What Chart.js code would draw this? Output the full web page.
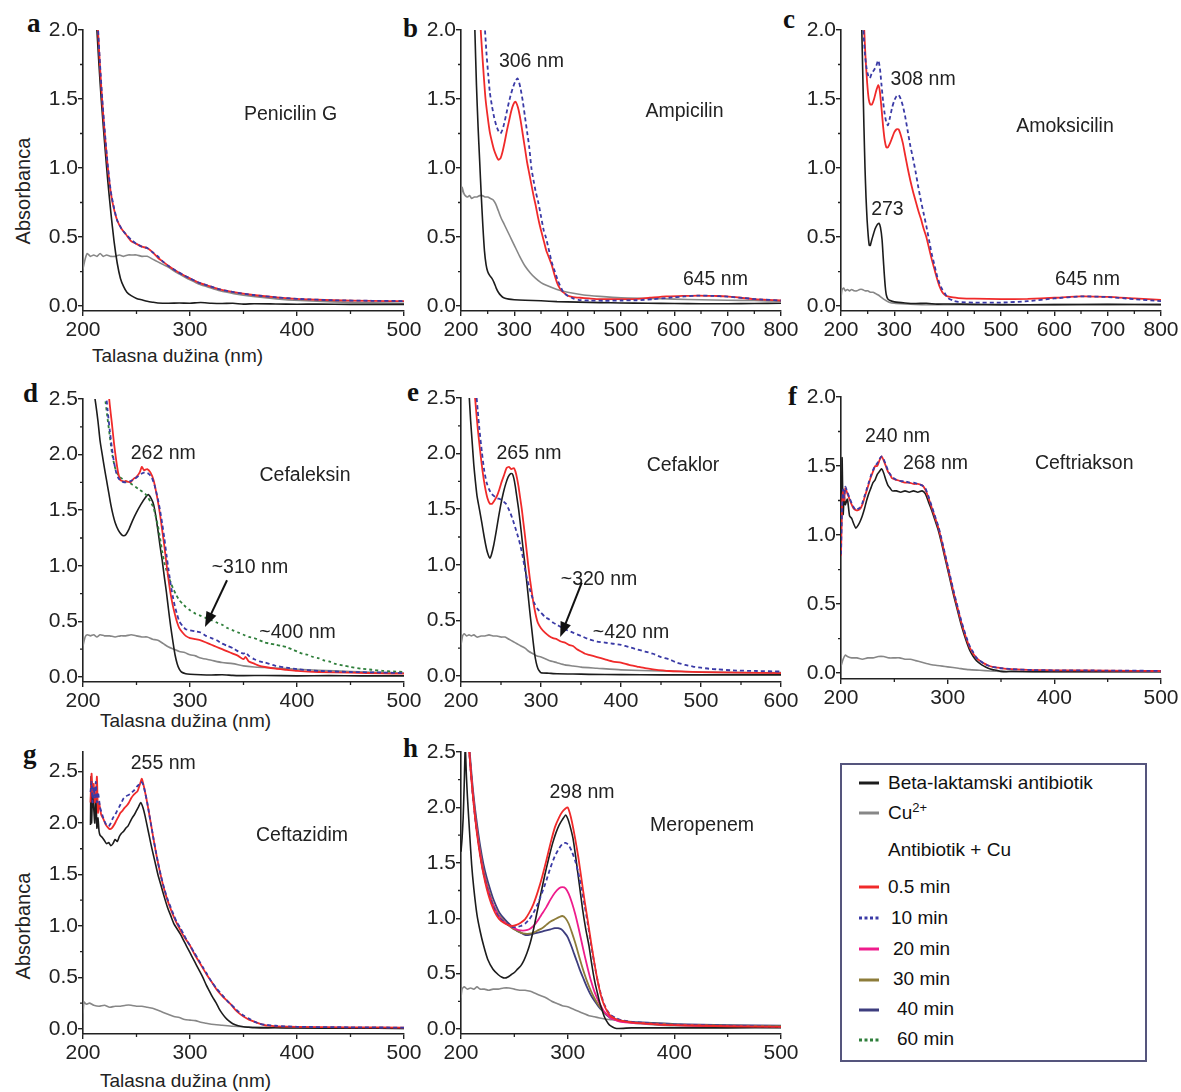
<!DOCTYPE html>
<html>
<head>
<meta charset="utf-8">
<script src="https://cdn.jsdelivr.net/npm/chart.js@4.4.1/dist/chart.umd.min.js"></script>
<style>
  html, body { margin: 0; background: #fff; }
  #wrap { position: relative; width: 1181px; height: 1092px; overflow: hidden; }
  #wrap canvas { position: absolute; }
  #overlay { position: absolute; left: 0; top: 0; }
</style>
</head>
<body>
<div id="wrap">
  <svg id="overlay" width="1181" height="1092" xmlns="http://www.w3.org/2000/svg"></svg>
</div>
<script>
// tick values
const xTicks500 = [200, 300, 400, 500]
const xTicks600 = [200, 300, 400, 500, 600]
const xTicks800 = [200, 300, 400, 500, 600, 700, 800]
const xMinor500 = [250, 350, 450]
const xMinor600 = [250, 350, 450, 550]
const xMinor800 = [250, 350, 450, 550, 650, 750]
const yTicks20 = [0, 0.5, 1, 1.5, 2]
const yTicks25 = [0, 0.5, 1, 1.5, 2, 2.5]
const yMinor20 = [0.25, 0.75, 1.25, 1.75]
const yMinor25 = [0.25, 0.75, 1.25, 1.75, 2.25]

// a - Penicilin G  [nm, absorbance]
const aBlack = [[209,2.6],[211,2.3],[213,2.0],[215,1.74],[217,1.5],[220,1.2],[223,0.92],[226,0.68],[229,0.47],[232,0.31],[235,0.2],[238,0.14],[241,0.1],[245,0.075],[250,0.055],[255,0.045],[260,0.035],[265,0.028],[270,0.022],[280,0.02],[290,0.022],[300,0.02],[310,0.026],[320,0.02],[330,0.018],[340,0.02],[350,0.014],[360,0.017],[380,0.015],[400,0.013],[420,0.014],[450,0.012],[480,0.012],[500,0.012]]
const aGray = [[200,0.27],[202,0.34],[204,0.38],[207,0.36],[210,0.37],[213,0.36],[216,0.38],[219,0.36],[222,0.37],[226,0.36],[230,0.36],[234,0.37],[238,0.36],[242,0.37],[246,0.37],[250,0.37],[255,0.36],[260,0.36],[265,0.34],[270,0.32],[275,0.3],[280,0.28],[288,0.24],[295,0.21],[300,0.19],[308,0.16],[316,0.14],[328,0.11],[341,0.09],[359,0.07],[381,0.052],[403,0.04],[434,0.03],[470,0.024],[500,0.02]]
const aRed = [[211,2.5],[214,2.0],[216,1.72],[218,1.48],[220,1.28],[223,1.02],[226,0.82],[229,0.7],[232,0.62],[236,0.56],[240,0.52],[245,0.47],[250,0.45],[255,0.43],[260,0.42],[265,0.39],[270,0.35],[275,0.32],[280,0.29],[288,0.25],[295,0.22],[300,0.2],[308,0.17],[316,0.15],[328,0.12],[341,0.1],[359,0.08],[381,0.062],[403,0.05],[434,0.042],[470,0.037],[500,0.035]]
const aBlue = [[211,2.5],[214,2.02],[216,1.74],[218,1.5],[220,1.3],[223,1.03],[226,0.83],[229,0.71],[232,0.62],[236,0.56],[240,0.52],[245,0.48],[250,0.45],[255,0.43],[260,0.42],[265,0.39],[270,0.36],[275,0.32],[280,0.29],[288,0.25],[295,0.22],[300,0.2],[308,0.17],[316,0.15],[328,0.12],[341,0.1],[359,0.08],[381,0.063],[403,0.051],[434,0.042],[470,0.038],[500,0.036]]

// b - Ampicilin
const bBlack = [[222,2.6],[226,2.0],[229,1.6],[232,1.3],[235,1.05],[238,0.8],[241,0.58],[244,0.4],[247,0.3],[250,0.25],[254,0.22],[258,0.2],[262,0.17],[266,0.13],[270,0.1],[275,0.075],[280,0.06],[290,0.05],[300,0.046],[320,0.042],[350,0.038],[380,0.032],[420,0.028],[460,0.025],[500,0.022],[550,0.02],[600,0.018],[650,0.017],[700,0.017],[750,0.018],[800,0.02]]
const bGray = [[200,0.78],[202,0.86],[205,0.82],[208,0.8],[212,0.79],[216,0.8],[220,0.78],[225,0.79],[230,0.79],[235,0.8],[240,0.8],[245,0.79],[250,0.79],[255,0.78],[260,0.77],[265,0.74],[270,0.69],[275,0.64],[280,0.6],[285,0.56],[290,0.52],[295,0.48],[300,0.44],[310,0.36],[320,0.29],[330,0.24],[340,0.2],[350,0.17],[360,0.15],[380,0.12],[400,0.1],[430,0.08],[460,0.07],[500,0.06],[550,0.055],[600,0.05],[650,0.045],[700,0.042],[750,0.04],[800,0.035]]
const bRed = [[234,2.3],[237,2.0],[240,1.82],[243,1.65],[246,1.5],[250,1.37],[254,1.26],[258,1.19],[262,1.13],[266,1.09],[270,1.06],[274,1.07],[278,1.12],[282,1.19],[286,1.27],[290,1.34],[294,1.41],[298,1.46],[302,1.48],[305,1.46],[308,1.42],[312,1.34],[316,1.24],[320,1.14],[324,1.04],[328,0.96],[332,0.88],[336,0.8],[340,0.73],[344,0.65],[348,0.58],[352,0.52],[356,0.46],[360,0.4],[365,0.35],[370,0.3],[375,0.23],[380,0.17],[385,0.13],[390,0.105],[395,0.09],[400,0.075],[410,0.065],[423,0.06],[440,0.055],[460,0.05],[500,0.05],[523,0.05],[554,0.06],[585,0.07],[615,0.073],[645,0.076],[675,0.073],[698,0.07],[725,0.06],[748,0.05],[775,0.045],[800,0.04]]
const bBlue = [[240,2.35],[245,2.0],[248,1.82],[251,1.68],[254,1.55],[258,1.45],[262,1.37],[266,1.31],[270,1.27],[274,1.25],[278,1.28],[282,1.34],[286,1.41],[290,1.48],[294,1.54],[298,1.59],[302,1.63],[306,1.65],[309,1.62],[312,1.57],[316,1.48],[320,1.37],[324,1.26],[328,1.15],[332,1.0],[336,0.91],[340,0.83],[345,0.75],[350,0.65],[355,0.55],[359,0.5],[364,0.42],[370,0.32],[376,0.25],[382,0.18],[388,0.13],[392,0.1],[400,0.075],[410,0.055],[420,0.045],[440,0.04],[470,0.038],[500,0.04],[530,0.042],[560,0.05],[590,0.06],[620,0.07],[645,0.076],[670,0.074],[700,0.068],[730,0.058],[760,0.048],[800,0.04]]

// c - Amoksicilin
const cBlack = [[234,2.6],[237,2.25],[239,2.0],[241,1.65],[243,1.3],[245,1.0],[247,0.78],[249,0.62],[251,0.51],[253,0.44],[255,0.44],[257,0.47],[260,0.51],[264,0.56],[268,0.59],[271,0.6],[274,0.57],[277,0.48],[279,0.36],[281,0.24],[283,0.14],[285,0.08],[288,0.05],[292,0.04],[300,0.03],[320,0.022],[340,0.018],[360,0.02],[380,0.014],[400,0.015],[450,0.012],[500,0.01],[600,0.01],[700,0.012],[800,0.01]]
const cGray = [[200,0.06],[202,0.12],[205,0.13],[208,0.11],[212,0.12],[216,0.11],[220,0.12],[225,0.11],[230,0.11],[235,0.12],[240,0.12],[245,0.11],[250,0.11],[255,0.1],[260,0.1],[265,0.09],[270,0.08],[275,0.065],[280,0.05],[285,0.038],[290,0.028],[300,0.02],[320,0.015],[340,0.012],[360,0.01],[400,0.01],[500,0.008],[600,0.01],[700,0.01],[800,0.012]]
const cRed = [[240,2.4],[243,2.05],[246,1.8],[249,1.62],[252,1.5],[255,1.46],[258,1.46],[262,1.5],[266,1.56],[270,1.6],[273,1.55],[276,1.43],[279,1.3],[282,1.2],[285,1.15],[288,1.15],[292,1.18],[296,1.22],[300,1.26],[304,1.28],[308,1.28],[312,1.24],[316,1.18],[320,1.1],[325,1.0],[330,0.91],[335,0.83],[340,0.76],[345,0.69],[350,0.63],[355,0.56],[360,0.5],[365,0.42],[370,0.34],[375,0.27],[380,0.2],[385,0.14],[390,0.1],[395,0.08],[400,0.07],[410,0.062],[420,0.058],[450,0.053],[500,0.05],[550,0.052],[600,0.06],[650,0.07],[700,0.066],[750,0.055],[800,0.045]]
const cBlue = [[240,2.3],[242,2.0],[245,1.82],[248,1.72],[251,1.67],[254,1.65],[258,1.69],[262,1.71],[266,1.74],[270,1.78],[273,1.72],[276,1.6],[279,1.48],[282,1.39],[285,1.33],[288,1.31],[292,1.37],[296,1.44],[300,1.49],[304,1.52],[308,1.53],[312,1.5],[316,1.45],[320,1.38],[325,1.27],[330,1.16],[335,1.07],[340,0.97],[345,0.86],[350,0.76],[355,0.67],[360,0.58],[365,0.48],[370,0.38],[375,0.3],[380,0.22],[385,0.16],[390,0.12],[395,0.09],[400,0.06],[410,0.04],[420,0.03],[450,0.025],[500,0.025],[550,0.035],[600,0.055],[650,0.07],[700,0.065],[750,0.05],[800,0.035]]

// d - Cefaleksin
const dBlack = [[210,2.58],[212,2.45],[214,2.3],[216,2.12],[218,2.0],[220,1.88],[222,1.77],[224,1.66],[226,1.55],[228,1.46],[230,1.39],[233,1.32],[236,1.28],[238,1.27],[240,1.28],[243,1.33],[246,1.4],[250,1.48],[254,1.55],[258,1.61],[261,1.64],[264,1.6],[266,1.55],[268,1.45],[270,1.32],[272,1.18],[274,1.05],[276,0.9],[278,0.76],[280,0.6],[282,0.45],[284,0.32],[286,0.2],[288,0.12],[290,0.07],[292,0.045],[296,0.03],[300,0.025],[310,0.02],[320,0.018],[330,0.02],[340,0.015],[350,0.012],[370,0.014],[400,0.01],[430,0.012],[460,0.01],[500,0.01]]
const dGray = [[200,0.28],[202,0.36],[204,0.38],[207,0.37],[210,0.38],[213,0.36],[216,0.38],[220,0.37],[225,0.37],[230,0.36],[235,0.37],[240,0.37],[245,0.38],[250,0.37],[255,0.36],[260,0.36],[265,0.34],[270,0.33],[275,0.3],[280,0.27],[285,0.25],[290,0.23],[295,0.22],[300,0.2],[305,0.19],[310,0.17],[320,0.15],[330,0.13],[340,0.12],[350,0.1],[360,0.09],[370,0.085],[380,0.08],[400,0.07],[420,0.06],[450,0.05],[480,0.04],[500,0.035]]
const dRed = [[221,2.9],[223,2.65],[225,2.45],[227,2.28],[229,2.1],[231,1.95],[233,1.83],[235,1.77],[238,1.76],[241,1.76],[244,1.75],[247,1.78],[250,1.8],[253,1.84],[255,1.89],[257,1.86],[260,1.87],[263,1.84],[266,1.77],[268,1.68],[270,1.58],[272,1.46],[274,1.32],[276,1.18],[278,1.02],[280,0.87],[282,0.74],[284,0.64],[286,0.56],[288,0.49],[290,0.44],[293,0.4],[296,0.37],[300,0.35],[305,0.34],[310,0.33],[315,0.31],[320,0.29],[325,0.27],[330,0.25],[335,0.23],[340,0.21],[345,0.19],[350,0.16],[352,0.18],[355,0.14],[360,0.12],[365,0.1],[370,0.09],[380,0.075],[390,0.065],[400,0.055],[420,0.045],[450,0.04],[480,0.032],[500,0.03]]
const dBlue = [[219,2.8],[221,2.6],[223,2.4],[225,2.22],[227,2.06],[229,1.93],[231,1.84],[233,1.79],[236,1.76],[240,1.75],[244,1.76],[248,1.78],[252,1.81],[255,1.83],[258,1.84],[261,1.83],[264,1.8],[267,1.72],[270,1.6],[272,1.5],[274,1.38],[276,1.25],[278,1.1],[280,0.96],[282,0.83],[284,0.72],[286,0.63],[288,0.56],[290,0.5],[293,0.46],[296,0.43],[300,0.42],[305,0.41],[310,0.4],[315,0.37],[320,0.35],[325,0.33],[330,0.3],[335,0.28],[340,0.26],[345,0.23],[350,0.21],[352,0.22],[355,0.19],[360,0.16],[365,0.14],[370,0.13],[380,0.1],[390,0.085],[400,0.07],[420,0.055],[450,0.045],[480,0.04],[500,0.035]]
const dGreen = [[217,2.8],[219,2.62],[221,2.48],[223,2.32],[225,2.17],[227,2.02],[229,1.92],[231,1.85],[234,1.8],[237,1.78],[240,1.76],[243,1.75],[246,1.73],[249,1.71],[252,1.69],[255,1.67],[258,1.65],[261,1.61],[264,1.56],[266,1.52],[268,1.44],[270,1.36],[272,1.25],[274,1.13],[276,1.03],[278,0.96],[280,0.9],[282,0.85],[284,0.8],[287,0.74],[290,0.69],[293,0.66],[296,0.63],[300,0.6],[305,0.57],[310,0.55],[315,0.53],[320,0.51],[325,0.49],[330,0.47],[335,0.44],[340,0.42],[345,0.4],[350,0.38],[355,0.36],[360,0.35],[365,0.33],[370,0.31],[375,0.3],[380,0.29],[385,0.28],[390,0.27],[395,0.25],[400,0.23],[405,0.21],[410,0.2],[415,0.18],[420,0.17],[425,0.15],[430,0.14],[435,0.12],[440,0.11],[445,0.1],[450,0.09],[460,0.075],[470,0.065],[480,0.055],[490,0.05],[500,0.045]]

// e - Cefaklor
const eBlack = [[208,2.75],[210,2.55],[212,2.3],[214,2.1],[216,1.9],[218,1.75],[220,1.62],[223,1.5],[226,1.38],[229,1.25],[232,1.14],[234,1.09],[236,1.06],[238,1.09],[241,1.18],[244,1.3],[247,1.43],[250,1.55],[253,1.65],[256,1.73],[259,1.79],[262,1.82],[264,1.82],[266,1.78],[268,1.7],[270,1.6],[272,1.5],[274,1.38],[276,1.25],[278,1.12],[280,1.0],[282,0.86],[284,0.72],[286,0.58],[288,0.45],[290,0.32],[292,0.2],[294,0.12],[296,0.07],[298,0.045],[300,0.03],[310,0.025],[320,0.02],[340,0.018],[360,0.015],[400,0.012],[450,0.01],[500,0.01],[550,0.01],[600,0.01]]
const eGray = [[200,0.28],[202,0.36],[204,0.38],[207,0.36],[210,0.37],[213,0.36],[216,0.37],[220,0.35],[225,0.36],[230,0.36],[235,0.37],[240,0.36],[245,0.36],[250,0.35],[255,0.35],[260,0.33],[265,0.31],[270,0.29],[275,0.27],[280,0.25],[285,0.22],[290,0.2],[295,0.18],[300,0.17],[310,0.14],[320,0.12],[330,0.1],[340,0.09],[350,0.08],[370,0.07],[400,0.055],[450,0.045],[500,0.035],[550,0.03],[600,0.03]]
const eRed = [[215,2.75],[217,2.55],[219,2.38],[221,2.22],[224,2.02],[227,1.84],[230,1.7],[233,1.6],[236,1.55],[239,1.55],[242,1.58],[245,1.62],[248,1.68],[251,1.75],[254,1.81],[257,1.87],[260,1.88],[263,1.86],[266,1.87],[268,1.84],[270,1.78],[272,1.7],[274,1.6],[276,1.5],[278,1.38],[280,1.26],[282,1.13],[284,1.0],[286,0.88],[288,0.78],[290,0.68],[292,0.6],[294,0.53],[296,0.48],[300,0.43],[305,0.39],[310,0.36],[315,0.34],[320,0.33],[325,0.31],[330,0.3],[335,0.28],[340,0.27],[345,0.24],[350,0.22],[355,0.2],[360,0.19],[370,0.17],[380,0.15],[390,0.13],[400,0.12],[410,0.1],[420,0.085],[430,0.07],[440,0.06],[460,0.045],[480,0.04],[500,0.035],[550,0.03],[600,0.025]]
const eBlue = [[217,2.75],[219,2.55],[221,2.38],[223,2.22],[226,2.02],[229,1.85],[232,1.74],[235,1.68],[238,1.64],[241,1.62],[245,1.6],[249,1.59],[253,1.57],[256,1.55],[259,1.51],[262,1.46],[265,1.4],[268,1.33],[271,1.26],[274,1.18],[277,1.08],[280,0.96],[283,0.86],[286,0.78],[289,0.71],[292,0.65],[296,0.6],[300,0.57],[305,0.53],[310,0.51],[315,0.48],[320,0.46],[325,0.44],[330,0.42],[340,0.39],[350,0.36],[360,0.33],[370,0.31],[380,0.3],[390,0.29],[400,0.28],[410,0.26],[420,0.24],[430,0.22],[440,0.2],[450,0.17],[460,0.15],[470,0.12],[480,0.1],[490,0.085],[500,0.075],[510,0.065],[520,0.06],[540,0.05],[570,0.045],[600,0.04]]

// f - Ceftriakson
const fBlack = [[200,0.88],[201,1.56],[202,1.15],[203,1.28],[204,1.22],[206,1.26],[208,1.14],[210,1.12],[212,1.08],[214,1.05],[216,1.07],[218,1.1],[220,1.14],[222,1.19],[224,1.25],[226,1.3],[228,1.34],[230,1.38],[232,1.4],[234,1.44],[236,1.46],[238,1.48],[240,1.45],[242,1.4],[244,1.36],[246,1.34],[248,1.32],[252,1.32],[256,1.31],[260,1.32],[264,1.31],[268,1.32],[272,1.31],[276,1.32],[279,1.3],[282,1.24],[285,1.18],[288,1.11],[291,1.04],[294,0.95],[297,0.85],[300,0.75],[303,0.65],[306,0.55],[309,0.46],[312,0.37],[315,0.29],[318,0.22],[321,0.16],[324,0.12],[327,0.09],[330,0.07],[334,0.05],[338,0.035],[342,0.025],[346,0.02],[350,0.012],[355,0.01],[360,0.012],[380,0.01],[400,0.01],[450,0.01],[500,0.01]]
const fGray = [[200,0.05],[202,0.1],[204,0.13],[206,0.12],[210,0.11],[215,0.11],[220,0.1],[225,0.11],[230,0.11],[235,0.12],[240,0.12],[245,0.11],[250,0.11],[255,0.11],[260,0.1],[265,0.1],[270,0.09],[275,0.08],[280,0.07],[285,0.06],[290,0.055],[295,0.05],[300,0.045],[310,0.035],[320,0.025],[330,0.02],[340,0.015],[350,0.012],[370,0.01],[400,0.01],[450,0.01],[500,0.01]]
const fRed = [[200,0.85],[201,1.22],[202,1.32],[203,1.25],[204,1.34],[206,1.3],[208,1.26],[210,1.22],[212,1.19],[214,1.18],[216,1.18],[218,1.19],[220,1.22],[222,1.27],[224,1.32],[226,1.37],[228,1.42],[230,1.46],[232,1.5],[234,1.5],[236,1.54],[238,1.57],[240,1.54],[242,1.5],[244,1.46],[246,1.44],[248,1.41],[252,1.4],[256,1.39],[260,1.38],[264,1.38],[268,1.37],[272,1.37],[276,1.36],[279,1.33],[282,1.27],[285,1.2],[288,1.13],[291,1.06],[294,0.97],[297,0.87],[300,0.77],[303,0.67],[306,0.57],[309,0.48],[312,0.39],[315,0.31],[318,0.24],[321,0.18],[324,0.14],[327,0.11],[330,0.09],[334,0.07],[338,0.055],[342,0.045],[346,0.04],[350,0.035],[355,0.03],[360,0.028],[380,0.022],[400,0.02],[450,0.018],[500,0.015]]
const fBlue = [[200,0.86],[201,1.2],[202,1.33],[203,1.27],[204,1.35],[206,1.31],[208,1.27],[210,1.23],[212,1.2],[214,1.18],[216,1.19],[218,1.2],[220,1.23],[222,1.28],[224,1.33],[226,1.38],[228,1.43],[230,1.47],[232,1.5],[234,1.52],[236,1.55],[238,1.57],[240,1.55],[242,1.51],[244,1.47],[246,1.44],[248,1.42],[252,1.4],[256,1.39],[260,1.39],[264,1.38],[268,1.38],[272,1.37],[276,1.36],[279,1.34],[282,1.28],[285,1.21],[288,1.14],[291,1.07],[294,0.98],[297,0.88],[300,0.78],[303,0.68],[306,0.58],[309,0.49],[312,0.4],[315,0.32],[318,0.25],[321,0.19],[324,0.15],[327,0.11],[330,0.09],[334,0.07],[338,0.055],[342,0.045],[346,0.04],[350,0.035],[355,0.032],[360,0.028],[380,0.022],[400,0.02],[450,0.018],[500,0.016]]

// g - Ceftazidim
const gBlack = [[207,1.98],[207.5,2.45],[208,2.0],[209,2.3],[210,2.15],[211,2.0],[212,2.28],[213,1.95],[214,2.05],[215,1.92],[216,1.88],[218,1.86],[220,1.83],[222,1.8],[224,1.81],[226,1.78],[228,1.8],[230,1.84],[232,1.82],[234,1.87],[236,1.9],[238,1.92],[240,1.95],[242,1.97],[244,2.01],[246,2.05],[248,2.08],[250,2.12],[252,2.16],[254,2.2],[256,2.15],[258,2.07],[260,1.97],[262,1.87],[264,1.77],[266,1.68],[268,1.59],[270,1.5],[273,1.39],[276,1.28],[279,1.18],[282,1.1],[285,1.02],[288,0.97],[291,0.92],[294,0.86],[297,0.8],[300,0.74],[303,0.68],[306,0.62],[309,0.56],[312,0.5],[315,0.43],[318,0.37],[321,0.31],[324,0.26],[327,0.2],[330,0.15],[333,0.11],[336,0.08],[340,0.05],[345,0.03],[350,0.02],[355,0.015],[360,0.01],[380,0.01],[400,0.008],[450,0.006],[500,0.005]]
const gGray = [[200,0.15],[201,0.26],[203,0.24],[206,0.25],[210,0.23],[215,0.22],[220,0.23],[225,0.21],[230,0.22],[235,0.22],[240,0.23],[245,0.23],[250,0.22],[255,0.22],[260,0.21],[265,0.2],[270,0.18],[275,0.16],[280,0.14],[285,0.12],[290,0.11],[295,0.09],[300,0.085],[305,0.08],[310,0.065],[315,0.055],[320,0.045],[330,0.035],[340,0.025],[350,0.02],[370,0.015],[400,0.01],[450,0.008],[500,0.005]]
const gRed = [[207,2.2],[208,2.48],[209,2.3],[210,2.38],[211,2.2],[212,2.25],[213,2.45],[214,2.1],[215,2.2],[217,2.08],[219,2.04],[221,1.99],[223,1.96],[225,1.94],[227,1.95],[229,1.98],[231,2.02],[233,2.06],[235,2.1],[237,2.12],[239,2.15],[241,2.17],[243,2.2],[245,2.24],[247,2.27],[249,2.29],[251,2.31],[253,2.37],[255,2.43],[257,2.35],[259,2.25],[261,2.14],[263,2.02],[265,1.9],[267,1.78],[269,1.67],[272,1.52],[275,1.39],[278,1.28],[281,1.19],[284,1.11],[287,1.04],[290,0.98],[293,0.92],[296,0.87],[300,0.81],[304,0.73],[308,0.66],[312,0.59],[316,0.52],[320,0.46],[325,0.38],[330,0.32],[335,0.27],[338,0.24],[342,0.19],[346,0.15],[350,0.12],[355,0.09],[360,0.07],[365,0.05],[370,0.035],[375,0.03],[380,0.025],[400,0.02],[450,0.015],[500,0.012]]
const gBlue = [[207,2.3],[208,2.4],[209,2.2],[210,2.35],[211,2.25],[212,2.4],[213,2.2],[214,2.3],[216,2.15],[218,2.08],[220,2.02],[222,1.98],[224,1.97],[226,2.0],[228,2.05],[230,2.08],[232,2.12],[234,2.16],[236,2.2],[238,2.24],[240,2.26],[242,2.27],[244,2.28],[246,2.3],[248,2.32],[250,2.35],[252,2.37],[254,2.4],[256,2.38],[258,2.3],[260,2.2],[262,2.08],[264,1.96],[266,1.84],[268,1.73],[270,1.62],[273,1.48],[276,1.36],[279,1.26],[282,1.18],[285,1.1],[288,1.03],[291,0.98],[294,0.92],[297,0.86],[300,0.81],[304,0.74],[308,0.67],[312,0.6],[316,0.53],[320,0.46],[325,0.39],[330,0.33],[335,0.27],[338,0.24],[342,0.2],[346,0.16],[350,0.13],[355,0.1],[360,0.07],[365,0.05],[370,0.04],[380,0.03],[400,0.02],[450,0.015],[500,0.012]]

// h - Meropenem
const hBlack = [[200,1.6],[201,1.72],[202,1.9],[203,2.2],[204,2.55],[205,2.3],[206,2.1],[208,1.78],[210,1.48],[212,1.27],[215,1.03],[218,0.88],[221,0.76],[225,0.63],[230,0.54],[235,0.49],[238,0.47],[241,0.46],[244,0.47],[247,0.49],[250,0.51],[253,0.54],[256,0.57],[259,0.62],[262,0.69],[265,0.78],[268,0.9],[271,1.04],[274,1.18],[277,1.32],[280,1.45],[283,1.57],[286,1.68],[289,1.77],[292,1.84],[295,1.89],[298,1.93],[300,1.9],[302,1.84],[305,1.72],[308,1.52],[311,1.3],[314,1.08],[317,0.9],[320,0.75],[322,0.62],[324,0.5],[326,0.4],[328,0.32],[330,0.24],[332,0.18],[334,0.12],[336,0.08],[338,0.05],[340,0.03],[344,0.01],[348,0.005],[360,0.01],[380,0.01],[400,0.01],[450,0.01],[500,0.012]]
const hGray = [[200,0.28],[201,0.36],[203,0.38],[206,0.36],[209,0.37],[212,0.36],[215,0.38],[218,0.36],[222,0.36],[226,0.35],[230,0.36],[235,0.36],[240,0.37],[245,0.37],[250,0.36],[255,0.35],[260,0.35],[265,0.34],[270,0.32],[275,0.3],[280,0.28],[285,0.25],[290,0.23],[295,0.21],[300,0.2],[305,0.18],[310,0.16],[315,0.14],[320,0.12],[325,0.11],[330,0.1],[335,0.09],[340,0.085],[345,0.08],[350,0.07],[360,0.055],[380,0.04],[400,0.03],[450,0.02],[500,0.015]]
const hRed = [[205,2.9],[207,2.62],[209,2.35],[211,2.12],[213,1.93],[215,1.76],[218,1.56],[221,1.4],[224,1.27],[227,1.17],[230,1.09],[233,1.03],[236,0.99],[240,0.96],[244,0.94],[248,0.93],[252,0.94],[256,0.96],[260,0.99],[264,1.05],[268,1.13],[272,1.24],[276,1.37],[280,1.52],[284,1.68],[288,1.82],[292,1.91],[295,1.96],[298,1.99],[300,2.0],[302,1.95],[304,1.87],[307,1.72],[310,1.55],[313,1.35],[316,1.15],[319,0.97],[322,0.78],[325,0.6],[328,0.44],[331,0.31],[334,0.22],[337,0.16],[340,0.12],[345,0.09],[350,0.075],[360,0.06],[380,0.045],[400,0.035],[450,0.025],[500,0.02]]
const hBlue = [[205,2.85],[207,2.6],[209,2.35],[211,2.12],[213,1.93],[215,1.77],[218,1.57],[221,1.41],[224,1.29],[227,1.19],[230,1.11],[233,1.05],[236,1.0],[240,0.97],[244,0.94],[248,0.92],[252,0.92],[256,0.93],[260,0.95],[264,0.99],[268,1.05],[272,1.13],[276,1.23],[280,1.34],[284,1.46],[288,1.56],[292,1.63],[295,1.67],[298,1.68],[301,1.66],[304,1.6],[307,1.52],[310,1.41],[313,1.27],[316,1.11],[319,0.94],[322,0.76],[325,0.59],[328,0.44],[331,0.32],[334,0.23],[337,0.17],[340,0.13],[345,0.1],[350,0.08],[360,0.065],[380,0.05],[400,0.04],[450,0.03],[500,0.02]]
const hMagenta = [[205,2.85],[207,2.6],[209,2.35],[211,2.13],[213,1.94],[215,1.78],[218,1.58],[221,1.42],[224,1.3],[227,1.2],[230,1.12],[233,1.06],[236,1.01],[240,0.97],[244,0.94],[248,0.92],[252,0.9],[256,0.89],[260,0.89],[264,0.9],[268,0.93],[272,0.98],[276,1.04],[280,1.1],[284,1.17],[288,1.23],[292,1.27],[295,1.28],[298,1.27],[301,1.22],[304,1.14],[307,1.04],[310,0.92],[313,0.79],[316,0.66],[319,0.54],[322,0.43],[325,0.34],[328,0.27],[331,0.21],[334,0.16],[337,0.13],[340,0.1],[345,0.08],[350,0.065],[360,0.055],[380,0.045],[400,0.035],[450,0.025],[500,0.02]]
const hOlive = [[205,2.85],[207,2.6],[209,2.36],[211,2.14],[213,1.96],[215,1.8],[218,1.6],[221,1.44],[224,1.32],[227,1.22],[230,1.13],[233,1.07],[236,1.02],[240,0.98],[244,0.94],[248,0.91],[252,0.89],[256,0.87],[260,0.86],[264,0.86],[268,0.87],[272,0.89],[276,0.91],[280,0.94],[284,0.97],[288,0.99],[292,1.01],[295,1.02],[298,1.0],[301,0.95],[304,0.87],[307,0.78],[310,0.68],[313,0.58],[316,0.49],[319,0.41],[322,0.34],[325,0.28],[328,0.23],[331,0.19],[334,0.15],[337,0.13],[340,0.11],[345,0.09],[350,0.075],[360,0.06],[380,0.05],[400,0.04],[450,0.03],[500,0.025]]
const hNavy = [[205,2.9],[207,2.65],[209,2.4],[211,2.18],[213,2.0],[215,1.85],[218,1.65],[221,1.49],[224,1.37],[227,1.27],[230,1.18],[233,1.11],[236,1.05],[240,1.0],[244,0.96],[248,0.92],[252,0.89],[256,0.87],[260,0.85],[264,0.85],[268,0.86],[272,0.87],[276,0.88],[280,0.89],[284,0.9],[288,0.91],[291,0.91],[294,0.9],[297,0.87],[300,0.83],[303,0.76],[306,0.68],[309,0.6],[312,0.52],[315,0.45],[318,0.38],[321,0.32],[324,0.27],[327,0.23],[330,0.19],[333,0.16],[336,0.13],[340,0.1],[345,0.085],[350,0.075],[360,0.065],[380,0.055],[400,0.045],[450,0.035],[500,0.03]]

const styles = {
	black: { color: '#1c1c1c', width: 1.6 },
	gray: { color: '#878787', width: 1.6 },
	red: { color: '#f02a2a', width: 1.8 },
	blue: { color: '#3a3aa6', width: 1.8, dash: [4, 3] },
	magenta: { color: '#ee1c8c', width: 1.8 },
	olive: { color: '#8d7c3a', width: 1.8 },
	navy: { color: '#3d3d7e', width: 1.8 },
	green: { color: '#2f7f3b', width: 1.8, dash: [3, 3] },
}

const SANS = '"Liberation Sans", Arial, sans-serif'
const INK = '#222'

// box = [axis x, right x, top y, bottom y] in page pixels; series listed bottom to top
const panels = [
	{ box: [83, 404, 30, 311], x: [200, 500], y: [-0.036, 2], xt: xTicks500, xm: xMinor500, yt: yTicks20, ym: yMinor20,
		series: [['gray', aGray], ['black', aBlack], ['red', aRed], ['blue', aBlue]],
		notes: [['Penicilin G', 394, 1.39]] },
	{ box: [461, 781, 30, 311], x: [200, 800], y: [-0.036, 2], xt: xTicks800, xm: xMinor800, yt: yTicks20, ym: yMinor20,
		series: [['gray', bGray], ['black', bBlack], ['red', bRed], ['blue', bBlue]],
		notes: [['306 nm', 332, 1.77], ['Ampicilin', 619, 1.41], ['645 nm', 677, 0.19]] },
	{ box: [841, 1161, 30, 311], x: [200, 800], y: [-0.036, 2], xt: xTicks800, xm: xMinor800, yt: yTicks20, ym: yMinor20,
		series: [['gray', cGray], ['black', cBlack], ['red', cRed], ['blue', cBlue]],
		notes: [['308 nm', 354, 1.64], ['273', 287, 0.7], ['Amoksicilin', 620, 1.3], ['645 nm', 662, 0.19]] },
	{ box: [83, 404, 399, 682], x: [200, 500], y: [-0.045, 2.5], xt: xTicks500, xm: xMinor500, yt: yTicks25, ym: yMinor25,
		series: [['gray', dGray], ['black', dBlack], ['green', dGreen], ['red', dRed], ['blue', dBlue]],
		notes: [['262 nm', 275, 2.01], ['Cefaleksin', 407.5, 1.81], ['~310 nm', 356, 0.98], ['~400 nm', 400.5, 0.4]],
		arrows: [[334.6, 0.87, 314, 0.45]] },
	{ box: [461, 781, 398, 682], x: [200, 600], y: [-0.054, 2.5], xt: xTicks600, xm: xMinor600, yt: yTicks25, ym: yMinor25,
		series: [['gray', eGray], ['black', eBlack], ['red', eRed], ['blue', eBlue]],
		notes: [['265 nm', 285, 2.0], ['Cefaklor', 477.5, 1.89], ['~320 nm', 372.5, 0.87], ['~420 nm', 412.5, 0.39]],
		arrows: [[351, 0.84, 324, 0.35]] },
	{ box: [841, 1161, 397, 679], x: [200, 500], y: [-0.043, 2], xt: xTicks500, xm: xMinor500, yt: yTicks20, ym: yMinor20,
		series: [['gray', fGray], ['black', fBlack], ['red', fRed], ['blue', fBlue]],
		notes: [['240 nm', 253, 1.71], ['268 nm', 288.6, 1.52], ['Ceftriakson', 428, 1.52]] },
	{ box: [83, 404, 752, 1034], x: [200, 500], y: [-0.05, 2.69], xt: xTicks500, xm: xMinor500, yt: yTicks25, ym: yMinor25,
		series: [['gray', gGray], ['black', gBlack], ['red', gRed], ['blue', gBlue]],
		notes: [['255 nm', 275, 2.58], ['Ceftazidim', 404.7, 1.88]] },
	{ box: [461, 781, 752, 1034], x: [200, 500], y: [-0.045, 2.5], xt: xTicks500, xm: xMinor500, yt: yTicks25, ym: yMinor25,
		series: [['gray', hGray], ['navy', hNavy], ['olive', hOlive], ['magenta', hMagenta], ['black', hBlack], ['blue', hBlue], ['red', hRed]],
		notes: [['298 nm', 313.4, 2.13], ['Meropenem', 426, 1.84]] },
]

const letters = [['a', 27, 32], ['b', 403, 37], ['c', 783, 28], ['d', 23, 402], ['e', 407, 401], ['f', 788, 405], ['g', 23, 763], ['h', 403, 757]]
const yTitles = [[30, 191], [30, 926]]
const xTitles = [[92, 362], [100, 727], [100, 1087]]

const legendRows = [
	['black', 'Beta-laktamski antibiotik', 888, 789, 783],
	['gray', 'Cu', 888, 819, 813],
	[null, 'Antibiotik + Cu', 888, 856],
	['red', '0.5 min', 888, 893, 887],
	['blue', '10 min', 891, 924, 918],
	['magenta', '20 min', 893, 955, 949],
	['olive', '30 min', 893, 985, 980],
	['navy', '40 min', 897, 1015, 1010],
	['green', '60 min', 897, 1045, 1040],
]

function drawExtras(chart, p) {
	const { ctx, chartArea: area } = chart
	const { x, y } = chart.scales
	ctx.save()
	ctx.strokeStyle = INK
	ctx.lineWidth = 1.3
	ctx.beginPath()
	p.xm.forEach((v) => {
		const px = x.getPixelForValue(v)
		ctx.moveTo(px, area.bottom)
		ctx.lineTo(px, area.bottom + 3)
	})
	p.ym.forEach((v) => {
		const py = y.getPixelForValue(v)
		ctx.moveTo(area.left - 3, py)
		ctx.lineTo(area.left, py)
	})
	ctx.stroke()

	ctx.fillStyle = INK
	ctx.font = '19.5px ' + SANS
	ctx.textAlign = 'center'
	ctx.textBaseline = 'middle'
	p.notes.forEach(([t, nx, ny]) => ctx.fillText(t, x.getPixelForValue(nx), y.getPixelForValue(ny)))

	;(p.arrows || []).forEach(([x1, y1, x2, y2]) => {
		const ax = x.getPixelForValue(x1), ay = y.getPixelForValue(y1)
		const bx = x.getPixelForValue(x2), by = y.getPixelForValue(y2)
		const ang = Math.atan2(by - ay, bx - ax)
		ctx.strokeStyle = '#111'
		ctx.fillStyle = '#111'
		ctx.lineWidth = 2
		ctx.beginPath()
		ctx.moveTo(ax, ay)
		ctx.lineTo(bx - 10 * Math.cos(ang), by - 10 * Math.sin(ang))
		ctx.stroke()
		ctx.beginPath()
		ctx.moveTo(bx, by)
		ctx.lineTo(bx - 15 * Math.cos(ang) + 5.5 * Math.sin(ang), by - 15 * Math.sin(ang) - 5.5 * Math.cos(ang))
		ctx.lineTo(bx - 15 * Math.cos(ang) - 5.5 * Math.sin(ang), by - 15 * Math.sin(ang) + 5.5 * Math.cos(ang))
		ctx.closePath()
		ctx.fill()
	})
	ctx.restore()
}

function makePanel(p) {
	const [x0, x1, y0, y1] = p.box
	const canvas = document.createElement('canvas')
	canvas.width = x1 - x0 + 70
	canvas.height = y1 - y0 + 50
	canvas.style.left = x0 - 50 + 'px'
	canvas.style.top = y0 - 15 + 'px'
	document.getElementById('wrap').appendChild(canvas)

	const datasets = p.series.map(([key, pts]) => {
		const s = styles[key]
		return {
			data: pts.map(([nm, a]) => ({ x: nm, y: a })),
			borderColor: s.color,
			borderWidth: s.width,
			borderDash: s.dash || [],
			pointRadius: 0,
			tension: 0.2,
			fill: false,
		}
	}).reverse()

	const tickFont = { family: SANS, size: 21 }
	new Chart(canvas, {
		type: 'line',
		data: { datasets },
		options: {
			responsive: false,
			animation: false,
			events: [],
			layout: { padding: { left: 0, right: 20, top: 15, bottom: 0 } },
			plugins: { legend: { display: false }, tooltip: { enabled: false } },
			scales: {
				x: {
					type: 'linear', min: p.x[0], max: p.x[1],
					afterFit: (s) => { s.height = 35 },
					afterBuildTicks: (s) => { s.ticks = p.xt.map((v) => ({ value: v })) },
					grid: { drawOnChartArea: false, tickLength: 5, color: INK, lineWidth: 1.4 },
					border: { color: INK, width: 1.6 },
					ticks: { autoSkip: false, maxRotation: 0, padding: 2, color: INK, font: tickFont, callback: (v) => String(v) },
				},
				y: {
					type: 'linear', min: p.y[0], max: p.y[1],
					afterFit: (s) => { s.width = 50 },
					afterBuildTicks: (s) => { s.ticks = p.yt.map((v) => ({ value: v })) },
					grid: { drawOnChartArea: false, tickLength: 5, color: INK, lineWidth: 1.4 },
					border: { color: INK, width: 1.6 },
					ticks: { autoSkip: false, padding: 0, color: INK, font: tickFont, callback: (v) => Number(v).toFixed(1) },
				},
			},
		},
		plugins: [{ id: 'extras', afterDraw: (chart) => drawExtras(chart, p) }],
	})
}

function svgEl(tag, attrs, text) {
	const el = document.createElementNS('http://www.w3.org/2000/svg', tag)
	Object.entries(attrs).forEach(([k, v]) => el.setAttribute(k, v))
	if (text) el.textContent = text
	return el
}

function makeOverlay() {
	const svg = document.getElementById('overlay')
	letters.forEach(([t, lx, ly]) => {
		svg.appendChild(svgEl('text', { x: lx, y: ly, 'font-family': '"Liberation Serif", "Times New Roman", serif', 'font-weight': 'bold', 'font-size': 27, fill: '#111' }, t))
	})
	yTitles.forEach(([tx, ty]) => {
		svg.appendChild(svgEl('text', { x: tx, y: ty, transform: `rotate(-90 ${tx} ${ty})`, 'text-anchor': 'middle', 'font-family': SANS, 'font-size': 20, fill: INK }, 'Absorbanca'))
	})
	xTitles.forEach(([tx, ty]) => {
		svg.appendChild(svgEl('text', { x: tx, y: ty, 'font-family': SANS, 'font-size': 19, fill: INK }, 'Talasna dužina (nm)'))
	})

	// legend box
	svg.appendChild(svgEl('rect', { x: 841, y: 764, width: 305, height: 297, fill: 'none', stroke: '#55557d', 'stroke-width': 2 }))
	legendRows.forEach(([key, label, tx, ty, ly]) => {
		if (key) {
			const s = styles[key]
			const attrs = { x1: 859, x2: 879, y1: ly, y2: ly, stroke: s.color, 'stroke-width': 3 }
			if (s.dash) attrs['stroke-dasharray'] = '3 2.5'
			svg.appendChild(svgEl('line', attrs))
		}
		const t = svgEl('text', { x: tx, y: ty, 'font-family': SANS, 'font-size': 19, fill: '#111' }, label)
		if (key === 'gray') {
			t.appendChild(svgEl('tspan', { dy: -7, 'font-size': 13 }, '2+'))
		}
		svg.appendChild(t)
	})
}

makeOverlay()
panels.forEach(makePanel)
</script>
</body>
</html>
